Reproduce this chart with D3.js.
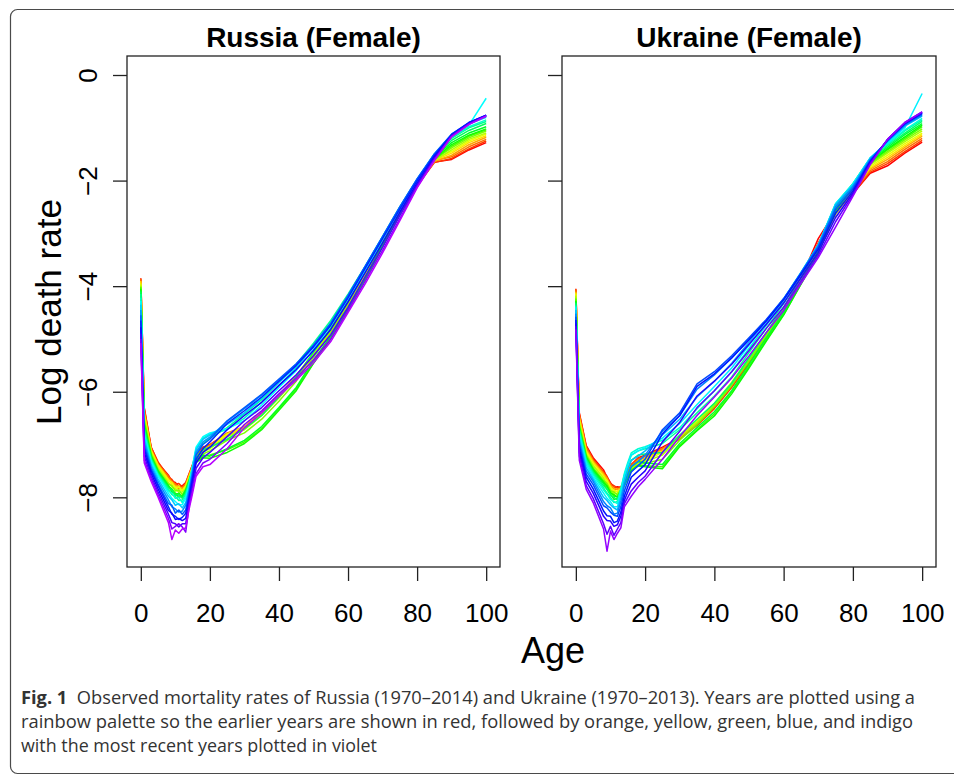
<!DOCTYPE html>
<html>
<head>
<meta charset="utf-8">
<script src="https://cdn.jsdelivr.net/npm/d3@7"></script>
<style>
  html, body { margin: 0; padding: 0; background: #fff; }
  svg { display: block; }
</style>
</head>
<body>
<svg id="fig" width="954" height="777"></svg>
<script>
// Ages at which the log death rates are recorded
const ages = [0, 1, 3, 5, 8, 9, 10, 11, 12, 13, 14, 15, 16, 18, 20, 25, 30, 35, 40, 45, 50, 55, 60, 65, 70, 75, 80, 85, 90, 95, 100];

// Years drawn for each country (every second year of the series)
const russiaYears = d3.range(1970, 2015, 2);   // 1970 ... 2014
const ukraineYears = d3.range(1970, 2013, 2);  // 1970 ... 2012
const russiaSpan = 45;   // 1970–2014
const ukraineSpan = 44;  // 1970–2013

// Log death rates, one row per age (same order as `ages`), one column per year
const russiaLogRates = [
  [-3.85,-3.88,-3.86,-3.92,-3.90,-3.95,-3.97,-4.00,-4.02,-4.05,-4.08,-4.10,-4.15,-4.22,-4.28,-4.35,-4.45,-4.55,-4.65,-4.78,-4.90,-5.00,-5.08],
  [-6.30,-6.32,-6.35,-6.40,-6.42,-6.45,-6.50,-6.55,-6.58,-6.62,-6.65,-6.70,-6.72,-6.78,-6.82,-6.88,-6.95,-7.02,-7.08,-7.15,-7.22,-7.30,-7.35],
  [-7.05,-7.06,-7.08,-7.10,-7.12,-7.12,-7.15,-7.18,-7.20,-7.22,-7.24,-7.26,-7.28,-7.30,-7.33,-7.38,-7.42,-7.46,-7.50,-7.55,-7.60,-7.65,-7.70],
  [-7.35,-7.33,-7.38,-7.40,-7.38,-7.42,-7.45,-7.48,-7.50,-7.52,-7.50,-7.55,-7.56,-7.58,-7.60,-7.65,-7.70,-7.75,-7.78,-7.84,-7.90,-7.95,-8.00],
  [-7.58,-7.62,-7.60,-7.65,-7.66,-7.68,-7.72,-7.75,-7.78,-7.80,-7.78,-7.82,-7.85,-7.88,-7.92,-7.98,-8.05,-8.12,-8.18,-8.25,-8.32,-8.40,-8.48],
  [-7.70,-7.66,-7.72,-7.70,-7.76,-7.72,-7.80,-7.78,-7.86,-7.84,-7.90,-7.86,-7.95,-7.92,-8.02,-8.05,-8.18,-8.15,-8.32,-8.30,-8.48,-8.60,-8.80],
  [-7.72,-7.75,-7.74,-7.78,-7.80,-7.82,-7.84,-7.88,-7.92,-7.95,-7.93,-7.96,-7.98,-8.02,-8.08,-8.15,-8.22,-8.30,-8.36,-8.42,-8.50,-8.55,-8.62],
  [-7.80,-7.74,-7.84,-7.78,-7.86,-7.80,-7.90,-7.86,-7.96,-7.92,-8.00,-7.94,-8.06,-8.00,-8.14,-8.12,-8.28,-8.24,-8.42,-8.40,-8.56,-8.50,-8.68],
  [-7.78,-7.80,-7.82,-7.84,-7.86,-7.88,-7.90,-7.95,-7.98,-8.00,-7.98,-8.02,-8.05,-8.10,-8.14,-8.20,-8.26,-8.32,-8.38,-8.44,-8.50,-8.56,-8.60],
  [-7.72,-7.75,-7.74,-7.78,-7.80,-7.78,-7.84,-7.85,-7.88,-7.90,-7.86,-7.92,-7.94,-7.98,-8.02,-8.10,-8.15,-8.24,-8.30,-8.40,-8.50,-8.66,-8.58],
  [-7.55,-7.58,-7.56,-7.60,-7.62,-7.60,-7.64,-7.66,-7.68,-7.70,-7.68,-7.70,-7.72,-7.74,-7.78,-7.82,-7.86,-7.92,-7.98,-8.04,-8.10,-8.16,-8.22],
  [-7.38,-7.40,-7.38,-7.42,-7.44,-7.42,-7.46,-7.48,-7.50,-7.52,-7.48,-7.46,-7.42,-7.40,-7.40,-7.46,-7.50,-7.56,-7.62,-7.70,-7.78,-7.86,-7.92],
  [-7.20,-7.22,-7.20,-7.24,-7.25,-7.26,-7.28,-7.30,-7.32,-7.34,-7.30,-7.24,-7.15,-7.08,-7.05,-7.10,-7.15,-7.20,-7.28,-7.35,-7.45,-7.55,-7.60],
  [-7.05,-7.06,-7.08,-7.10,-7.10,-7.12,-7.14,-7.18,-7.22,-7.25,-7.20,-7.10,-6.98,-6.88,-6.85,-6.90,-6.95,-7.00,-7.08,-7.15,-7.25,-7.35,-7.42],
  [-7.00,-7.02,-7.00,-7.03,-7.05,-7.04,-7.08,-7.12,-7.20,-7.26,-7.22,-7.05,-6.88,-6.80,-6.78,-6.82,-6.86,-6.90,-6.95,-7.05,-7.15,-7.28,-7.38],
  [-6.80,-6.82,-6.78,-6.80,-6.82,-6.80,-6.85,-6.92,-7.10,-7.15,-7.08,-6.90,-6.68,-6.72,-6.70,-6.62,-6.56,-6.55,-6.60,-6.72,-6.85,-6.98,-7.08],
  [-6.68,-6.70,-6.66,-6.68,-6.70,-6.66,-6.72,-6.78,-6.95,-6.98,-6.92,-6.70,-6.42,-6.50,-6.55,-6.40,-6.32,-6.30,-6.36,-6.45,-6.55,-6.62,-6.68],
  [-6.40,-6.42,-6.38,-6.40,-6.42,-6.40,-6.45,-6.52,-6.70,-6.72,-6.66,-6.45,-6.15,-6.20,-6.25,-6.12,-6.06,-6.05,-6.10,-6.20,-6.30,-6.36,-6.40],
  [-6.08,-6.10,-6.06,-6.08,-6.10,-6.08,-6.12,-6.18,-6.32,-6.35,-6.30,-6.10,-5.82,-5.88,-5.92,-5.82,-5.78,-5.76,-5.80,-5.88,-5.98,-6.04,-6.08],
  [-5.72,-5.74,-5.70,-5.72,-5.72,-5.70,-5.74,-5.80,-5.95,-5.98,-5.92,-5.72,-5.48,-5.55,-5.60,-5.52,-5.48,-5.47,-5.50,-5.58,-5.68,-5.74,-5.78],
  [-5.28,-5.30,-5.27,-5.28,-5.28,-5.26,-5.30,-5.35,-5.45,-5.46,-5.40,-5.25,-5.08,-5.14,-5.20,-5.15,-5.12,-5.12,-5.15,-5.22,-5.32,-5.40,-5.45],
  [-4.82,-4.84,-4.80,-4.82,-4.82,-4.80,-4.84,-4.88,-4.98,-5.00,-4.95,-4.80,-4.65,-4.70,-4.75,-4.72,-4.70,-4.70,-4.74,-4.82,-4.92,-5.00,-5.05],
  [-4.32,-4.34,-4.30,-4.32,-4.32,-4.30,-4.34,-4.38,-4.45,-4.46,-4.42,-4.28,-4.15,-4.20,-4.24,-4.20,-4.18,-4.18,-4.22,-4.30,-4.40,-4.46,-4.50],
  [-3.78,-3.80,-3.76,-3.78,-3.78,-3.76,-3.80,-3.83,-3.88,-3.88,-3.84,-3.72,-3.62,-3.66,-3.70,-3.65,-3.62,-3.62,-3.66,-3.74,-3.82,-3.90,-3.95],
  [-3.18,-3.20,-3.16,-3.18,-3.18,-3.16,-3.20,-3.22,-3.25,-3.24,-3.20,-3.12,-3.06,-3.08,-3.12,-3.08,-3.06,-3.06,-3.10,-3.18,-3.26,-3.32,-3.37],
  [-2.60,-2.62,-2.58,-2.60,-2.60,-2.58,-2.62,-2.63,-2.65,-2.64,-2.60,-2.55,-2.50,-2.52,-2.55,-2.52,-2.50,-2.50,-2.54,-2.60,-2.66,-2.72,-2.76],
  [-2.08,-2.10,-2.06,-2.08,-2.08,-2.06,-2.10,-2.10,-2.12,-2.10,-2.06,-2.02,-1.98,-2.00,-2.02,-1.99,-1.97,-1.97,-2.00,-2.05,-2.08,-2.12,-2.14],
  [-1.65,-1.66,-1.62,-1.64,-1.62,-1.60,-1.62,-1.60,-1.60,-1.58,-1.55,-1.52,-1.50,-1.52,-1.53,-1.50,-1.49,-1.50,-1.52,-1.55,-1.58,-1.61,-1.62],
  [-1.60,-1.58,-1.55,-1.52,-1.48,-1.45,-1.42,-1.38,-1.35,-1.32,-1.28,-1.24,-1.20,-1.18,-1.16,-1.14,-1.12,-1.12,-1.13,-1.14,-1.15,-1.16,-1.17],
  [-1.42,-1.40,-1.36,-1.32,-1.28,-1.25,-1.22,-1.19,-1.16,-1.14,-1.10,-1.05,-1.00,-0.98,-0.95,-0.93,-0.91,-0.90,-0.90,-0.91,-0.92,-0.93,-0.94],
  [-1.28,-1.25,-1.22,-1.18,-1.15,-1.12,-1.10,-1.06,-1.04,-1.02,-0.98,-0.92,-0.88,-0.85,-0.44,-0.80,-0.78,-0.77,-0.76,-0.76,-0.77,-0.78,-0.78]
];

const ukraineLogRates = [
  [-4.05,-4.08,-4.06,-4.10,-4.12,-4.14,-4.18,-4.22,-4.25,-4.28,-4.30,-4.32,-4.35,-4.38,-4.40,-4.45,-4.52,-4.58,-4.64,-4.70,-4.76,-4.82],
  [-6.40,-6.42,-6.45,-6.48,-6.50,-6.55,-6.58,-6.62,-6.65,-6.68,-6.70,-6.72,-6.74,-6.78,-6.82,-6.88,-6.95,-7.00,-7.08,-7.15,-7.22,-7.30],
  [-7.02,-7.04,-7.06,-7.10,-7.12,-7.15,-7.18,-7.20,-7.22,-7.25,-7.26,-7.28,-7.30,-7.34,-7.38,-7.44,-7.50,-7.56,-7.62,-7.70,-7.78,-7.85],
  [-7.25,-7.28,-7.30,-7.32,-7.34,-7.38,-7.40,-7.44,-7.46,-7.48,-7.50,-7.52,-7.55,-7.58,-7.62,-7.66,-7.70,-7.76,-7.84,-7.92,-8.02,-8.10],
  [-7.48,-7.52,-7.54,-7.56,-7.58,-7.62,-7.64,-7.68,-7.70,-7.72,-7.74,-7.78,-7.82,-7.86,-7.92,-8.00,-8.08,-8.16,-8.26,-8.36,-8.50,-8.60],
  [-7.62,-7.60,-7.66,-7.64,-7.70,-7.68,-7.75,-7.74,-7.80,-7.78,-7.85,-7.84,-7.92,-7.94,-8.02,-8.06,-8.16,-8.20,-8.35,-8.44,-8.70,-9.02],
  [-7.72,-7.74,-7.75,-7.78,-7.80,-7.82,-7.85,-7.88,-7.90,-7.92,-7.94,-7.96,-8.00,-8.04,-8.08,-8.14,-8.20,-8.28,-8.36,-8.45,-8.55,-8.64],
  [-7.82,-7.78,-7.86,-7.82,-7.90,-7.86,-7.94,-7.90,-7.98,-7.95,-8.04,-8.00,-8.10,-8.08,-8.18,-8.20,-8.32,-8.34,-8.48,-8.55,-8.72,-8.80],
  [-7.80,-7.82,-7.84,-7.85,-7.88,-7.90,-7.92,-7.95,-7.98,-8.00,-8.02,-8.05,-8.08,-8.12,-8.18,-8.24,-8.30,-8.36,-8.45,-8.52,-8.60,-8.68],
  [-7.82,-7.80,-7.84,-7.82,-7.86,-7.84,-7.86,-7.88,-7.86,-7.90,-7.88,-7.86,-7.84,-7.84,-7.92,-8.00,-8.08,-8.18,-8.28,-8.36,-8.48,-8.58],
  [-7.70,-7.70,-7.72,-7.70,-7.72,-7.72,-7.74,-7.76,-7.76,-7.78,-7.72,-7.65,-7.58,-7.55,-7.60,-7.68,-7.78,-7.88,-7.98,-8.06,-8.12,-8.18],
  [-7.52,-7.54,-7.55,-7.56,-7.58,-7.58,-7.60,-7.62,-7.62,-7.64,-7.56,-7.46,-7.38,-7.34,-7.38,-7.48,-7.58,-7.70,-7.80,-7.90,-8.00,-8.08],
  [-7.38,-7.40,-7.40,-7.42,-7.44,-7.45,-7.46,-7.48,-7.50,-7.50,-7.42,-7.30,-7.20,-7.16,-7.20,-7.30,-7.42,-7.52,-7.62,-7.75,-7.88,-7.98],
  [-7.25,-7.26,-7.28,-7.30,-7.32,-7.33,-7.35,-7.38,-7.40,-7.40,-7.32,-7.20,-7.12,-7.08,-7.12,-7.22,-7.32,-7.40,-7.50,-7.62,-7.72,-7.80],
  [-7.20,-7.22,-7.22,-7.25,-7.28,-7.30,-7.32,-7.36,-7.40,-7.42,-7.35,-7.18,-7.08,-7.04,-7.06,-7.12,-7.20,-7.28,-7.38,-7.50,-7.60,-7.66],
  [-7.05,-7.08,-7.08,-7.10,-7.12,-7.15,-7.20,-7.28,-7.42,-7.46,-7.38,-7.15,-6.98,-6.92,-6.88,-6.82,-6.75,-6.72,-6.80,-6.95,-7.15,-7.28],
  [-6.88,-6.90,-6.88,-6.86,-6.86,-6.84,-6.86,-6.92,-7.02,-7.04,-6.98,-6.82,-6.72,-6.68,-6.60,-6.52,-6.45,-6.40,-6.45,-6.58,-6.75,-6.85],
  [-6.62,-6.64,-6.60,-6.58,-6.56,-6.55,-6.58,-6.62,-6.72,-6.74,-6.68,-6.52,-6.40,-6.32,-6.24,-6.10,-5.95,-5.85,-5.90,-6.08,-6.30,-6.45],
  [-6.30,-6.32,-6.28,-6.26,-6.24,-6.22,-6.24,-6.28,-6.42,-6.46,-6.38,-6.22,-6.08,-5.98,-5.90,-5.80,-5.68,-5.62,-5.66,-5.80,-5.98,-6.10],
  [-5.90,-5.92,-5.88,-5.86,-5.84,-5.82,-5.84,-5.88,-6.00,-6.04,-5.98,-5.84,-5.72,-5.62,-5.55,-5.46,-5.36,-5.32,-5.36,-5.48,-5.62,-5.74],
  [-5.45,-5.46,-5.42,-5.40,-5.38,-5.37,-5.38,-5.42,-5.52,-5.55,-5.48,-5.36,-5.26,-5.18,-5.12,-5.06,-5.00,-4.98,-5.02,-5.10,-5.22,-5.32],
  [-4.98,-4.98,-4.95,-4.92,-4.90,-4.88,-4.90,-4.94,-5.02,-5.04,-4.98,-4.88,-4.80,-4.74,-4.70,-4.66,-4.64,-4.63,-4.66,-4.72,-4.80,-4.88],
  [-4.52,-4.52,-4.50,-4.48,-4.46,-4.44,-4.45,-4.48,-4.54,-4.55,-4.50,-4.40,-4.33,-4.28,-4.26,-4.24,-4.24,-4.24,-4.26,-4.32,-4.40,-4.46],
  [-3.85,-3.88,-3.92,-3.90,-3.90,-3.88,-3.90,-3.92,-3.96,-3.96,-3.92,-3.84,-3.78,-3.76,-3.75,-3.74,-3.75,-3.76,-3.78,-3.84,-3.90,-3.95],
  [-3.10,-3.18,-3.24,-3.28,-3.30,-3.32,-3.34,-3.36,-3.38,-3.38,-3.34,-3.28,-3.24,-3.22,-3.22,-3.22,-3.24,-3.26,-3.30,-3.36,-3.42,-3.46],
  [-2.58,-2.60,-2.62,-2.64,-2.64,-2.64,-2.62,-2.60,-2.58,-2.56,-2.52,-2.48,-2.45,-2.44,-2.44,-2.46,-2.50,-2.55,-2.62,-2.70,-2.78,-2.88],
  [-2.25,-2.24,-2.22,-2.20,-2.19,-2.17,-2.15,-2.13,-2.12,-2.10,-2.08,-2.07,-2.06,-2.06,-2.07,-2.09,-2.12,-2.16,-2.20,-2.24,-2.27,-2.30],
  [-1.86,-1.84,-1.81,-1.78,-1.76,-1.73,-1.70,-1.68,-1.66,-1.64,-1.62,-1.60,-1.58,-1.57,-1.57,-1.58,-1.60,-1.62,-1.64,-1.66,-1.68,-1.70],
  [-1.72,-1.68,-1.64,-1.60,-1.56,-1.52,-1.48,-1.45,-1.42,-1.40,-1.37,-1.34,-1.32,-1.30,-1.28,-1.26,-1.25,-1.24,-1.23,-1.22,-1.22,-1.22],
  [-1.48,-1.45,-1.41,-1.37,-1.34,-1.30,-1.26,-1.23,-1.20,-1.17,-1.13,-1.10,-1.06,-1.04,-1.00,-0.97,-0.95,-0.93,-0.92,-0.91,-0.90,-0.90],
  [-1.27,-1.24,-1.20,-1.16,-1.13,-1.10,-1.06,-1.02,-0.98,-0.95,-0.92,-0.88,-0.85,-0.82,-0.35,-0.78,-0.76,-0.74,-0.72,-0.71,-0.70,-0.70]
];

// Axis ticks and labels
const xTicks = [0, 20, 40, 60, 80, 100];
const yTicks = [0, -2, -4, -6, -8];
const panelTitles = ["Russia (Female)", "Ukraine (Female)"];
const yTitle = "Log death rate";
const xTitle = "Age";
const captionLines = [
  { bold: "Fig. 1", text: "  Observed mortality rates of Russia (1970\u20132014) and Ukraine (1970\u20132013). Years are plotted using a", len: 894 },
  { bold: "", text: "rainbow palette so the earlier years are shown in red, followed by orange, yellow, green, blue, and indigo", len: 892 },
  { bold: "", text: "with the most recent years plotted in violet", len: 356 }
];

const svg = d3.select("#fig");
const FONT = "'Liberation Sans', Arial, Helvetica, sans-serif";

// Outer frame around figure and caption
svg.append("rect")
  .attr("x", 10.5).attr("y", 9.5)
  .attr("width", 960).attr("height", 764)
  .attr("rx", 7).attr("ry", 7)
  .attr("fill", "none").attr("stroke", "#4a4a4a").attr("stroke-width", 1.2);

// Shared vertical scale
const y = d3.scaleLinear().domain([-9.32, 0.36]).range([567, 56]);

const panels = [
  { left: 127, right: 500, years: russiaYears, span: russiaSpan, rates: russiaLogRates, title: panelTitles[0], labels: true },
  { left: 562, right: 936, years: ukraineYears, span: ukraineSpan, rates: ukraineLogRates, title: panelTitles[1], labels: false }
];

panels.forEach(p => {
  const x = d3.scaleLinear().domain([-4, 104]).range([p.left, p.right]);
  const g = svg.append("g");

  // rainbow palette: hue runs from red towards violet, stopping short of magenta
  const m = Math.floor(p.span * 1.25);
  const colour = yr => d3.hsl(((yr - 1970) / m) * 360, 1, 0.5).toString();

  const series = d3.transpose(p.rates);
  const line = d3.line()
    .x((d, i) => x(ages[i]))
    .y(d => y(d));

  g.append("g")
    .selectAll("path")
    .data(series)
    .join("path")
    .attr("d", line)
    .attr("fill", "none")
    .attr("stroke", (d, i) => colour(p.years[i]))
    .attr("stroke-width", 1.5)
    .attr("stroke-linejoin", "round");

  // plot frame
  g.append("rect")
    .attr("x", p.left).attr("y", 56)
    .attr("width", p.right - p.left).attr("height", 567 - 56)
    .attr("fill", "none").attr("stroke", "#222").attr("stroke-width", 1.3);

  // bottom axis
  const xa = g.append("g")
    .attr("transform", "translate(0,567)")
    .call(d3.axisBottom(x).tickValues(xTicks).tickSize(14).tickFormat(d3.format("d")));
  xa.select(".domain").remove();
  xa.selectAll(".tick line").attr("stroke", "#222").attr("stroke-width", 1.3);
  xa.selectAll(".tick text")
    .attr("y", 55).attr("dy", 0)
    .attr("fill", "#000")
    .style("font-family", FONT).style("font-size", "26px");

  // left axis, labels set along the axis
  const ya = g.append("g")
    .attr("transform", `translate(${p.left},0)`)
    .call(d3.axisLeft(y).tickValues(yTicks).tickSize(14).tickFormat(d3.format("d")));
  ya.select(".domain").remove();
  ya.selectAll(".tick line").attr("stroke", "#222").attr("stroke-width", 1.3);
  if (p.labels) {
    ya.selectAll(".tick text")
      .attr("transform", "rotate(-90)")
      .attr("x", 0).attr("y", -30).attr("dy", 0)
      .attr("text-anchor", "middle")
      .attr("fill", "#000")
      .style("font-family", FONT).style("font-size", "26px");
  } else {
    ya.selectAll(".tick text").remove();
  }

  // panel title
  svg.append("text")
    .attr("x", (p.left + p.right) / 2).attr("y", 47)
    .attr("text-anchor", "middle")
    .style("font-family", FONT).style("font-size", "28px").style("font-weight", "bold")
    .text(p.title);
});

// axis titles
svg.append("text")
  .attr("transform", "translate(61,312) rotate(-90)")
  .attr("text-anchor", "middle")
  .style("font-family", FONT).style("font-size", "35px")
  .text(yTitle);

svg.append("text")
  .attr("x", 553).attr("y", 663)
  .attr("text-anchor", "middle")
  .style("font-family", FONT).style("font-size", "36px")
  .text(xTitle);

// caption
const cap = svg.append("g")
  .style("font-family", "'Open Sans', 'Noto Sans', sans-serif")
  .style("font-size", "18px")
  .attr("fill", "#333");
captionLines.forEach((c, i) => {
  const t = cap.append("text")
    .attr("x", 21).attr("y", 704 + i * 24)
    .attr("textLength", c.len)
    .attr("lengthAdjust", "spacingAndGlyphs");
  if (c.bold) t.append("tspan").style("font-weight", "bold").text(c.bold);
  t.append("tspan").attr("xml:space", "preserve").text(c.text);
});
</script>
</body>
</html>
